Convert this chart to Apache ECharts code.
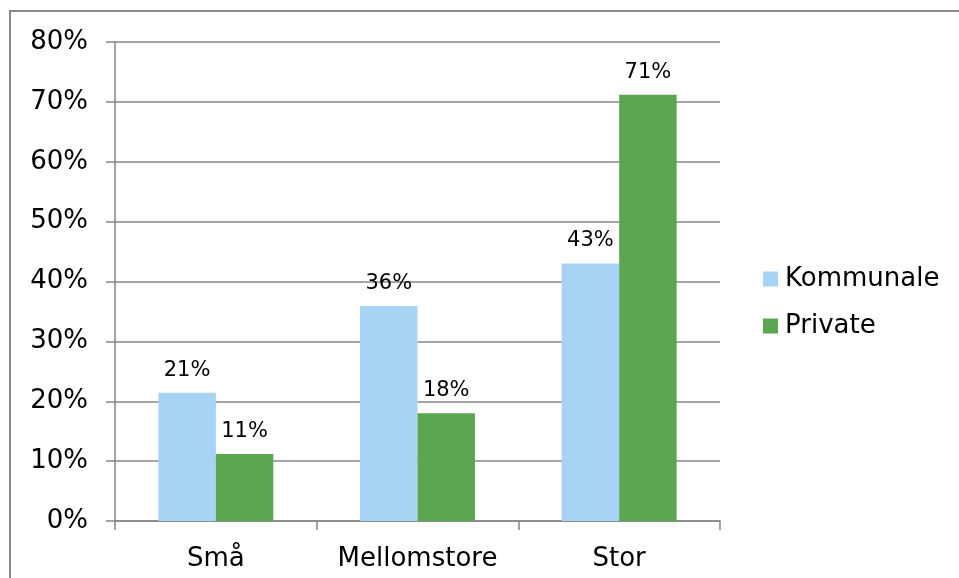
<!DOCTYPE html>
<html>
<head>
<meta charset="utf-8">
<script src="https://cdn.jsdelivr.net/npm/echarts@6/dist/echarts.min.js"></script>
<style>
html,body{margin:0;padding:0;background:#fff;}
#c{width:959px;height:578px;}
</style>
</head>
<body>
<div id="c"></div>
<script>
const categories = ['Små', 'Mellomstore', 'Stor'];
const kommunale = [21.4, 35.9, 43.0];
const privat = [11.2, 18.0, 71.2];
const seriesNames = ['Kommunale', 'Private'];
const yTicks = [0, 10, 20, 30, 40, 50, 60, 70, 80];

const chart = echarts.init(document.getElementById('c'));
const font = 'DejaVu Sans, Verdana, sans-serif';
const gridColor = '#878787';
const labelStyle = {
  show: true, position: 'top', distance: 12,
  fontFamily: font, fontSize: 21, color: '#000',
  formatter: p => Math.round(p.value) + '%'
};
chart.setOption({
  animation: false,
  graphic: [{
    type: 'rect', shape: {x: 10, y: 11, width: 1000, height: 1000},
    style: {fill: 'none', stroke: '#8a8a8a', lineWidth: 2}, silent: true
  }],
  grid: {left: 115, right: 239, top: 42, bottom: 57},
  legend: {
    orient: 'vertical', left: 758, top: 261,
    itemWidth: 15, itemHeight: 15, itemGap: 21,
    icon: 'rect',
    textStyle: {fontFamily: font, fontSize: 26, color: '#000', padding: [0,0,0,2]},
    data: seriesNames
  },
  xAxis: {
    type: 'category', data: categories,
    axisLine: {lineStyle: {color: gridColor, width: 1.5}},
    axisTick: {show: true, interval: 0, length: 9, lineStyle: {color: gridColor, width: 1.5}},
    axisLabel: {interval: 0, fontFamily: font, fontSize: 26, color: '#000', margin: 25}
  },
  yAxis: {
    type: 'value', min: 0, max: 80, interval: 10,
    axisLine: {show: true, lineStyle: {color: gridColor, width: 1.5}},
    axisTick: {show: true, length: 9, lineStyle: {color: gridColor, width: 1.5}},
    splitLine: {lineStyle: {color: gridColor, width: 1.5}},
    axisLabel: {fontFamily: font, fontSize: 26, color: '#000', margin: 27,
      formatter: v => yTicks.includes(v) ? v + '%' : ''}
  },
  series: [
    {name: seriesNames[0], type: 'bar', data: kommunale, barGap: '0%', barCategoryGap: '43%',
     itemStyle: {color: '#A7D3F5'}, label: labelStyle},
    {name: seriesNames[1], type: 'bar', data: privat, barGap: '0%', barCategoryGap: '43%',
     itemStyle: {color: '#5CA651'}, label: labelStyle}
  ]
});
</script>
</body>
</html>
